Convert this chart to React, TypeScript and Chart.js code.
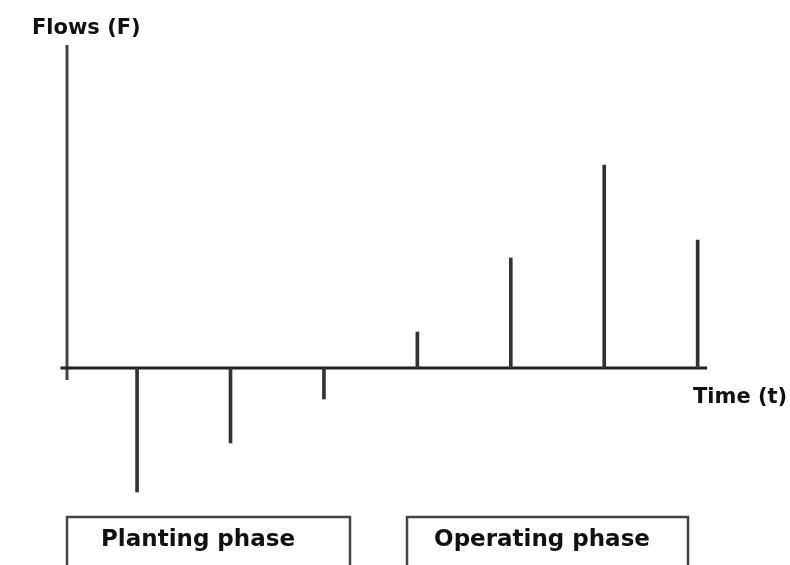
import React, { useEffect, useRef } from "react";
import { Chart, registerables } from "chart.js";

Chart.register(...registerables);

// Time periods and cash flows (arbitrary units)
const periods = [1, 2, 3, 4, 5, 6, 7];
const flows = [-124, -75, -31, 36, 110, 203, 128];
const yAxisLabel = "Flows (F)";
const xAxisLabel = "Time (t)";
const phases = ["Planting phase", "Operating phase"];

const FONT = "bold 21px 'DejaVu Sans', sans-serif";
const PHASE_FONT = "bold 23px 'DejaVu Sans', sans-serif";

const sketchPlugin = {
  id: "sketch",
  beforeDatasetsDraw(chart: any) {
    const { ctx, scales } = chart;
    const xs = scales.x;
    const ys = scales.y;
    ctx.save();
    // y axis
    ctx.strokeStyle = "#444";
    ctx.lineWidth = 3;
    ctx.beginPath();
    ctx.moveTo(xs.getPixelForValue(0.25), ys.getPixelForValue(323));
    ctx.lineTo(xs.getPixelForValue(0.25), ys.getPixelForValue(-12));
    ctx.stroke();
    // x axis
    ctx.strokeStyle = "#222";
    ctx.beginPath();
    ctx.moveTo(xs.getPixelForValue(0.18), ys.getPixelForValue(0));
    ctx.lineTo(xs.getPixelForValue(7.1), ys.getPixelForValue(0));
    ctx.stroke();
    ctx.restore();
  },
  afterDraw(chart: any) {
    const { ctx } = chart;
    ctx.save();
    ctx.fillStyle = "#111";
    ctx.font = FONT;
    ctx.textBaseline = "middle";
    ctx.textAlign = "left";
    ctx.fillText(yAxisLabel, 32, 29);
    ctx.fillText(xAxisLabel, 693, 398);
    // phase boxes
    const boxes = [
      [67, 350, 198],
      [407, 688, 542],
    ];
    ctx.strokeStyle = "#444";
    ctx.lineWidth = 2.5;
    ctx.font = PHASE_FONT;
    boxes.forEach(([l, r, c], i) => {
      ctx.beginPath();
      ctx.moveTo(l, 570);
      ctx.lineTo(l, 517);
      ctx.lineTo(r, 517);
      ctx.lineTo(r, 570);
      ctx.stroke();
      ctx.textAlign = "center";
      ctx.fillText(phases[i], c, 540);
    });
    ctx.restore();
  },
};

export default function App() {
  const ref = useRef<HTMLCanvasElement>(null);
  useEffect(() => {
    if (!ref.current) return;
    const chart = new Chart(ref.current, {
      type: "bar",
      data: {
        datasets: [
          {
            data: periods.map((p, i) => ({ x: p, y: flows[i] })),
            backgroundColor: "#333",
            borderWidth: 0,
            barThickness: 3,
          },
        ],
      },
      options: {
        animation: false,
        responsive: false,
        maintainAspectRatio: false,
        layout: { padding: { left: 67, right: 83, top: 45, bottom: 67 } },
        plugins: { legend: { display: false }, tooltip: { enabled: false } },
        scales: {
          x: { type: "linear", min: 0.25, max: 7.1, display: false, offset: false },
          y: { type: "linear", min: -130, max: 323, display: false },
        },
      },
      plugins: [sketchPlugin],
    });
    return () => chart.destroy();
  }, []);
  return (
    <div style={{ position: "fixed", left: 0, top: 0, width: 790, height: 565, background: "#fff" }}>
      <canvas ref={ref} width={790} height={565} style={{ display: "block" }} />
    </div>
  );
}
